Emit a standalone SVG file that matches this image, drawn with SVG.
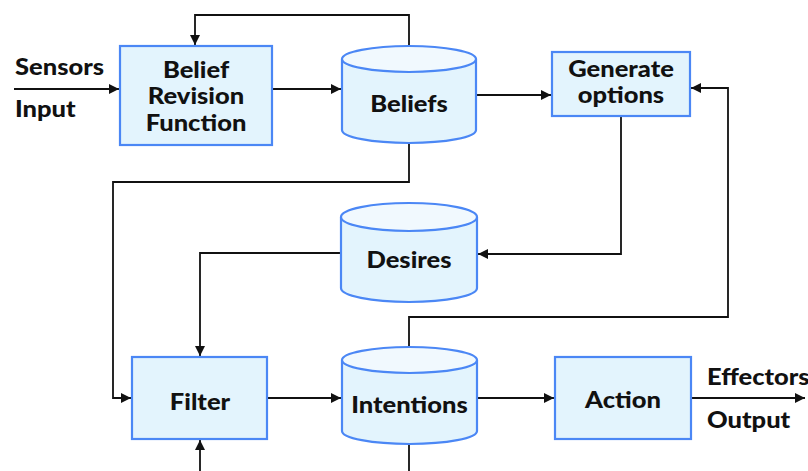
<svg xmlns="http://www.w3.org/2000/svg" width="808" height="471" viewBox="0 0 808 471">
<style>
.box{fill:#e3f4fd;stroke:#4b87f5;stroke-width:2.2}
.top{fill:#f1f9fe;stroke:#4b87f5;stroke-width:2.2}
.t{font-family:Lato,"Liberation Sans",sans-serif;font-weight:900;font-size:22px;fill:#111;text-anchor:middle}
.l{font-family:Lato,"Liberation Sans",sans-serif;font-weight:900;font-size:22px;fill:#111}
.c{fill:none;stroke:#111;stroke-width:1.8}
</style>
<defs>
<marker id="a" viewBox="0 0 10 10" refX="10" refY="5" markerWidth="10" markerHeight="10" markerUnits="userSpaceOnUse" orient="auto">
<path d="M0,0L10,5L0,10z" fill="#111"/>
</marker>
</defs>
<rect width="808" height="471" fill="#fff"/>
<g id="connectors">
<path class="c" d="M14,89H119" marker-end="url(#a)"/>
<path class="c" d="M409,46V15H195V45" marker-end="url(#a)"/>
<path class="c" d="M272,89H341" marker-end="url(#a)"/>
<path class="c" d="M476,95H551" marker-end="url(#a)"/>
<path class="c" d="M621,116V254H478" marker-end="url(#a)"/>
<path class="c" d="M409,143V182H113V398H131" marker-end="url(#a)"/>
<path class="c" d="M341,253H200V356" marker-end="url(#a)"/>
<path class="c" d="M200,471V440" marker-end="url(#a)"/>
<path class="c" d="M267,398H341" marker-end="url(#a)"/>
<path class="c" d="M409,347V317H728V88H691" marker-end="url(#a)"/>
<path class="c" d="M409,444V471"/>
<path class="c" d="M477,398H554" marker-end="url(#a)"/>
<path class="c" d="M691,398H805" marker-end="url(#a)"/>
</g>
<g id="sensors">
<text class="l" transform="translate(15,75) scale(1.16,1)">Sensors</text>
<text class="l" transform="translate(15,117) scale(1.16,1)">Input</text>
</g>
<g id="brf">
<rect class="box" x="120" y="46" width="152" height="99"/>
<text class="t" transform="translate(196,78) scale(1.16,1)">Belief</text>
<text class="t" transform="translate(196,104) scale(1.16,1)">Revision</text>
<text class="t" transform="translate(196,131) scale(1.16,1)">Function</text>
</g>
<g id="beliefs">
<path class="box" d="M342,59V130A67,13 0 0 0 476,130V59"/>
<ellipse class="top" cx="409" cy="59" rx="67" ry="13"/>
<text class="t" transform="translate(409,112) scale(1.16,1)">Beliefs</text>
</g>
<g id="generate">
<rect class="box" x="552" y="52" width="138" height="64"/>
<text class="t" transform="translate(621,77) scale(1.16,1)">Generate</text>
<text class="t" transform="translate(621,103) scale(1.16,1)">options</text>
</g>
<g id="desires">
<path class="box" d="M341,217V288A68,14 0 0 0 477,288V217"/>
<ellipse class="top" cx="409" cy="217" rx="68" ry="14"/>
<text class="t" transform="translate(409,268) scale(1.16,1)">Desires</text>
</g>
<g id="filter">
<rect class="box" x="132" y="357" width="135" height="82"/>
<text class="t" transform="translate(200,410) scale(1.16,1)">Filter</text>
</g>
<g id="intentions">
<path class="box" d="M342,360V431A67.5,13 0 0 0 477,431V360"/>
<ellipse class="top" cx="409.5" cy="360" rx="67.5" ry="13"/>
<text class="t" transform="translate(409.5,413) scale(1.16,1)">Intentions</text>
</g>
<g id="action">
<rect class="box" x="555" y="357" width="136" height="82"/>
<text class="t" transform="translate(623,408) scale(1.16,1)">Action</text>
</g>
<g id="effectors">
<text class="l" transform="translate(707,385) scale(1.16,1)">Effectors</text>
<text class="l" transform="translate(707,428) scale(1.16,1)">Output</text>
</g>
</svg>
